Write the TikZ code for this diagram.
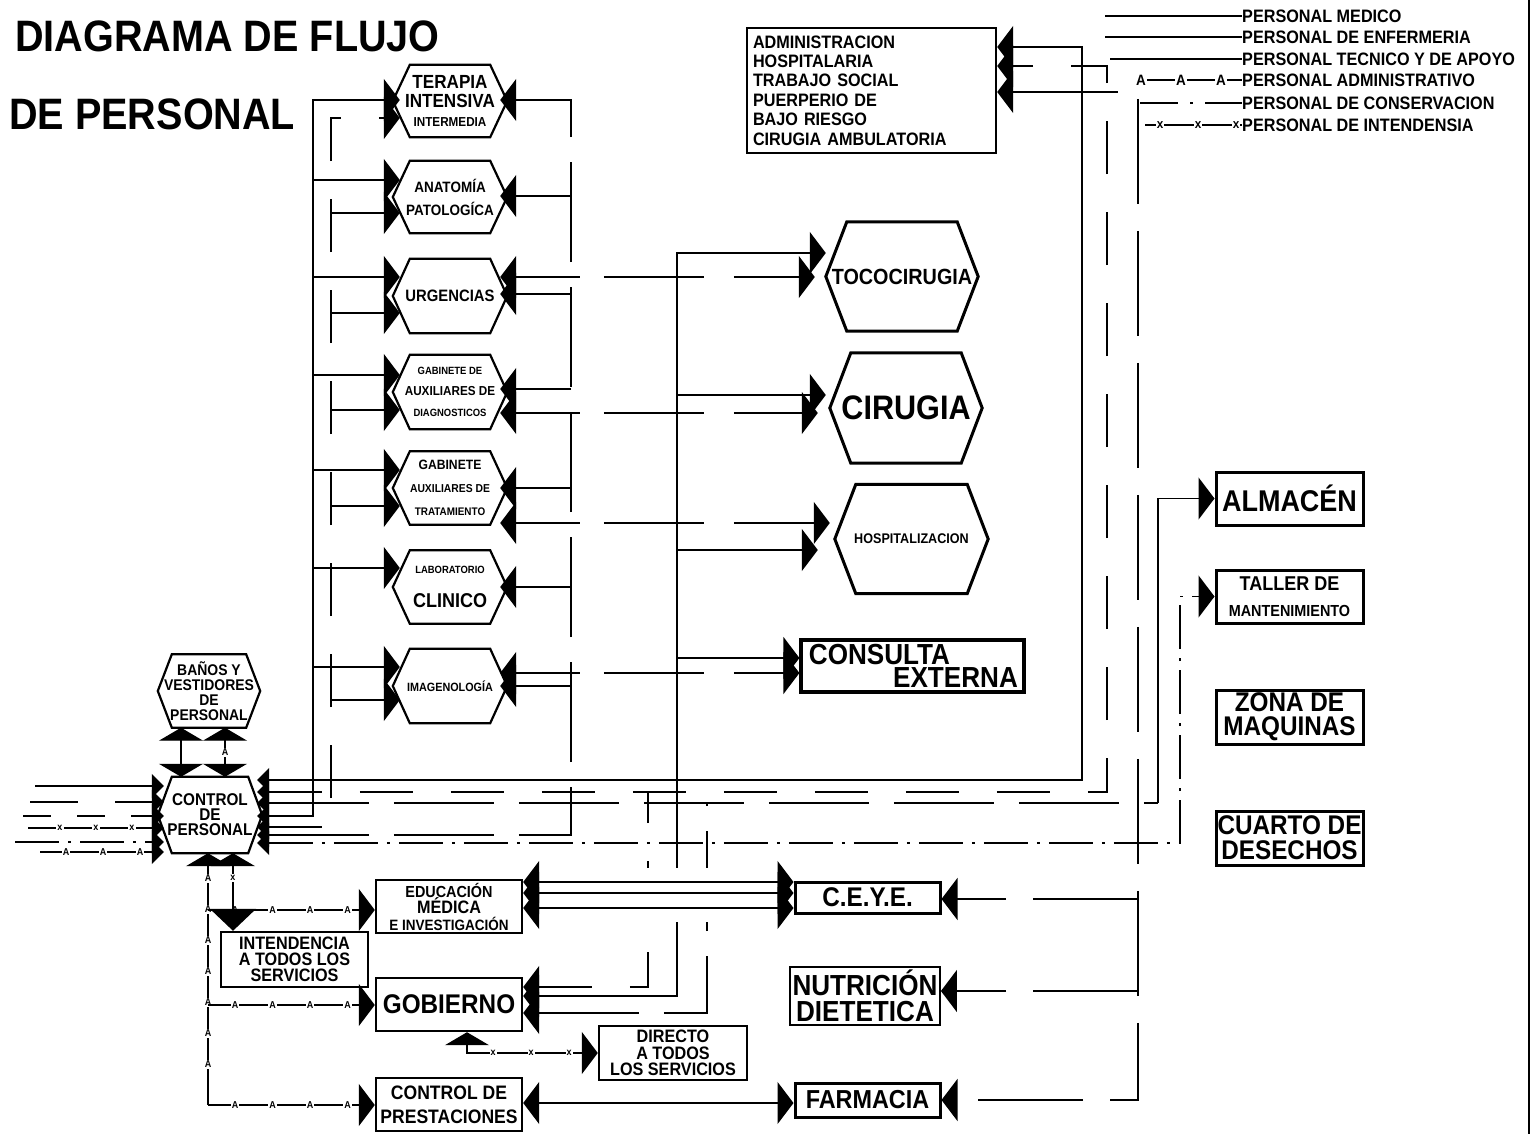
\documentclass[tikz,border=0pt]{standalone}
\usepackage{fontspec}
\setmainfont{Liberation Sans}[FakeStretch=0.9]
\usetikzlibrary{arrows.meta,decorations.markings}
\newcommand\fnt[2]{\fontsize{#1}{#2}\selectfont\bfseries}
\newcommand\amk{\node[mk]{A};}
\newcommand\xmk{\node[mk]{x};}
\newcommand\bamk{\node[mk,font=\fnt{15}{15}]{A};}
\newcommand\bxmk{\node[mk,font=\fnt{13}{13}]{x};}
\newcommand\hexa[3]{\draw[line width=#3,line join=miter] (#1.west) -- ([xshift=#2]#1.north west) -- ([xshift=-#2]#1.north east) -- (#1.east) -- ([xshift=-#2]#1.south east) -- ([xshift=#2]#1.south west) -- cycle;}
\begin{document}
\begin{tikzpicture}[x=1pt,y=-1pt,
  every node/.style={inner sep=0pt},
  >={Triangle[length=16pt,width=42pt]},
  sm/.tip={Triangle[length=12pt,width=24pt]},
  bt/.tip={Triangle[length=13pt,width=44pt]},
  dn/.tip={Triangle[length=22pt,width=46pt]},
  ln/.style={line width=1.4pt},
  med/.style={ln},
  enf/.style={ln,dash pattern=on 53pt off 38pt},
  tec/.style={ln,dash pattern=on 100pt off 25pt},
  crs/.style={ln,dash pattern=on 64pt off 24pt on 100pt off 30pt on 400pt off 1pt},
  lng/.style={ln,dash pattern=on 105pt off 27pt},
  con/.style={ln,dash pattern=on 44pt off 9pt on 3pt off 9pt},
  shd/.style={ln,dash pattern=on 28pt off 26pt},
  mk/.style={fill=white,inner sep=1.2pt,font=\fnt{10}{10}},
  mkl/.style={ln,postaction={decorate,decoration={markings,mark=#1}}},
  hx/.style 2 args={minimum width=#1,minimum height=#2,align=center},
  bx/.style 2 args={draw,line width=2.4pt,line join=miter,minimum width=#1,minimum height=#2,align=center},
]
\useasboundingbox (0,0) rectangle (1534,1134);
\fill[white] (0,0) rectangle (1534,1134);

% ---------- title ----------
\node[anchor=west,font=\fnt{44}{48}] (t1) at (15,36) {DIAGRAMA DE FLUJO};
\node[anchor=west,font=\fnt{44}{48}] (t2) at (9,114) {DE PERSONAL};

% ---------- legend ----------
\node[anchor=west,font=\fnt{18}{18}] (g1) at (1242,16) {PERSONAL MEDICO};
\node[anchor=west,font=\fnt{18}{18}] (g2) at (1242,37) {PERSONAL DE ENFERMERIA};
\node[anchor=west,font=\fnt{18}{18}] (g3) at (1242,59) {PERSONAL TECNICO Y DE APOYO};
\node[anchor=west,font=\fnt{18}{18}] (g4) at (1242,80) {PERSONAL ADMINISTRATIVO};
\node[anchor=west,font=\fnt{18}{18}] (g5) at (1242,103) {PERSONAL DE CONSERVACION};
\node[anchor=west,font=\fnt{18}{18}] (g6) at (1242,125) {PERSONAL DE INTENDENSIA};
\coordinate (k1) at (1105,16);
\coordinate (k2) at (1105,37);
\coordinate (k3) at (1110,59);
\coordinate (k4) at (1135,80);
\coordinate (k5) at (1140,103);
\coordinate (k6) at (1145,125);
\draw[med] (k1) -- (g1.west);
\draw[med] (k2) -- (g2.west);
\draw[med] (k3) -- (g3.west);
\draw[mkl={between positions 6pt and 1 step 40pt with \bamk}] (k4) -- (g4.west);
\draw[ln,dash pattern=on 38pt off 12pt on 3pt off 12pt] (k5) -- (g5.west);
\draw[mkl={between positions 15pt and 1 step 38pt with \bxmk}] (k6) -- (g6.west);

% ---------- page frame line ----------
\draw[line width=1.2pt] (1529,0) -- (1529,1134);

% ---------- admin box ----------
\node[bx={249pt}{125pt},text width=237pt,align=left,font=\fnt{18}{19.4}] (adm) at (871.5,90.5)
  {ADMINISTRACION\\HOSPITALARIA\\TRABAJO SOCIAL\\PUERPERIO DE\\BAJO RIESGO\\CIRUGIA AMBULATORIA};

% ---------- left hexagons ----------
\node[hx={114pt}{72pt},font=\fnt{19}{19}] (ter) at (450,101) {TERAPIA\\INTENSIVA\\\fnt{13}{19}INTERMEDIA};
\node[hx={114pt}{72pt},font=\fnt{15}{23}] (ana) at (450,197) {ANATOMÍA\\PATOLOGÍCA};
\node[hx={114pt}{74pt},font=\fnt{16.5}{18}] (urg) at (450,296) {URGENCIAS};
\node[hx={114pt}{74pt},font=\fnt{13}{21}] (gdi) at (450,392) {\fnt{10.5}{21}GABINETE DE\\AUXILIARES DE\\\fnt{10.5}{21}DIAGNOSTICOS};
\node[hx={114pt}{73pt},font=\fnt{13.5}{23}] (gtr) at (450,488) {GABINETE\\\fnt{11.5}{23}AUXILIARES DE\\\fnt{11}{23}TRATAMIENTO};
\node[hx={114pt}{73pt},font=\fnt{20}{34}] (lab) at (450,587) {\fnt{10.5}{34}LABORATORIO\\CLINICO};
\node[hx={114pt}{74pt},font=\fnt{12}{14}] (ima) at (450,686) {IMAGENOLOGÍA};
\foreach \n in {ter,ana,urg,gdi,gtr,lab,ima} {\hexa{\n}{17pt}{2.2pt}}

% ---------- central hexagons ----------
\node[hx={152pt}{109pt},font=\fnt{22}{24}] (toc) at (902,276.5) {TOCOCIRUGIA};
\node[hx={152pt}{110pt},font=\fnt{34}{36}] (cir) at (906,408) {CIRUGIA};
\node[hx={153pt}{109pt},font=\fnt{14}{16}] (hos) at (911.5,539) {HOSPITALIZACION};
\foreach \n in {toc,cir,hos} {\hexa{\n}{21pt}{3pt}}
\node[bx={223pt}{52pt},line width=3.2pt] (cns) at (912.5,666) {};
\node[font=\fnt{29}{30}] (cnsa) at (879.5,655) {CONSULTA};
\node[font=\fnt{29}{30}] (cnsb) at (955.5,678) {EXTERNA};

% ---------- baños / control ----------
\node[hx={102pt}{73pt},font=\fnt{15.5}{15}] (ban) at (209,691) {BAÑOS Y\\VESTIDORES\\DE\\PERSONAL};
\node[hx={104pt}{76pt},font=\fnt{17}{15}] (ctl) at (210,815) {CONTROL\\DE\\PERSONAL};
\hexa{ban}{14pt}{2.2pt}
\hexa{ctl}{14pt}{2.2pt}

% ---------- right boxes ----------
\node[bx={147pt}{53pt},line width=3pt,font=\fnt{30}{32}] (alm) at (1289.5,498.5) {ALMACÉN};
\node[bx={147pt}{53pt},line width=3pt,font=\fnt{20}{26}] (tal) at (1289.5,596.5) {TALLER DE\\\fnt{16}{26}MANTENIMIENTO};
\node[bx={147pt}{54pt},line width=3pt,font=\fnt{27}{24}] (zon) at (1289.5,717) {ZONA DE\\MAQUINAS};
\node[bx={147pt}{54pt},line width=3pt,font=\fnt{27}{25}] (cua) at (1289.5,838) {CUARTO DE\\DESECHOS};

% ---------- bottom boxes ----------
\node[bx={145pt}{31pt},line width=3pt,font=\fnt{27}{28}] (cey) at (867.5,897.5) {C.E.Y.E.};
\node[bx={150pt}{58pt},line width=1.8pt,font=\fnt{29}{26}] (nut) at (865,996) {NUTRICIÓN\\DIETETICA};
\node[bx={145pt}{34pt},line width=3pt,font=\fnt{26}{28}] (far) at (867.5,1100) {FARMACIA};
\node[bx={146pt}{53pt},font=\fnt{16}{16.5}] (edu) at (449,906.5) {EDUCACIÓN\\\fnt{18}{16.5}MÉDICA\\\fnt{15}{16.5}E INVESTIGACIÓN};
\node[bx={147pt}{55pt},font=\fnt{18}{16}] (int) at (294.5,959.5) {INTENDENCIA\\A TODOS LOS\\SERVICIOS};
\node[bx={146pt}{53pt},font=\fnt{27}{28}] (gob) at (449,1004.5) {GOBIERNO};
\node[bx={148pt}{54pt},font=\fnt{18}{16.5}] (dir) at (673,1053) {DIRECTO\\A TODOS\\LOS SERVICIOS};
\node[bx={146pt}{53pt},font=\fnt{19.5}{24}] (pre) at (449,1104.5) {CONTROL DE\\PRESTACIONES};

% ---------- trunk coordinates ----------
\coordinate (tA) at (313,0);
\coordinate (tB) at (331,0);
\coordinate (tC) at (571,0);
\coordinate (tD) at (677,0);
\coordinate (tE) at (648,0);
\coordinate (tF) at (707,0);
\coordinate (vM) at (1082,0);
\coordinate (vN) at (1107,0);
\coordinate (vO) at (1138,0);
\coordinate (vP) at (1158,0);
\coordinate (vQ) at (1180,0);
\coordinate (vA) at (208,0);
\coordinate (vX) at (233,0);
\coordinate (bx1) at (181,0);
\coordinate (bx2) at (225,0);
\coordinate (gx) at (467,0);

% ---------- left trunks ----------
\draw[med,sm->] ([xshift=-5pt]ctl.east |- 0,816) -| (tA |- 0,100) -- ([xshift=7pt]ter.west |- 0,100);
\foreach \y/\n in {180/ana,277/urg,375/gdi,470/gtr,568/lab,667/ima}
  \draw[med,->] (tA |- 0,\y) -- ([xshift=7pt]\n.west |- 0,\y);
\draw[enf,sm->] ([xshift=-5pt]ctl.east |- 0,827) -| (tB |- 0,118) -- ([xshift=7pt]ter.west |- 0,118);
\foreach \y/\n in {213/ana,313/urg,410/gdi,506/gtr,700/ima}
  \draw[enf,->] (tB |- 0,\y) -- ([xshift=7pt]\n.west |- 0,\y);

% ---------- right trunk ----------
\draw[tec,sm->] ([xshift=-5pt]ctl.east |- 0,835) -| (tC |- 0,100) -- ([xshift=-7pt]ter.east |- 0,100);
\foreach \y/\n in {196/ana,294/urg,389/gdi,488/gtr,587/lab,686/ima}
  \draw[med,->] (tC |- 0,\y) -- ([xshift=-7pt]\n.east |- 0,\y);

% ---------- cross links ----------
\draw[crs,<->] ([xshift=-7pt]urg.east |- 0,277) -- ([xshift=-11pt]toc.west |- 0,277);
\draw[crs,<->] ([xshift=-7pt]gdi.east |- 0,413) -- ([xshift=-12pt]cir.west |- 0,413);
\draw[crs,<->] ([xshift=-7pt]gtr.east |- 0,523) -- ([xshift=-5pt]hos.west |- 0,523);
\draw[crs,<->] ([xshift=-7pt]ima.east |- 0,673) -- (cns.west |- 0,673);

% ---------- central trunk ----------
\draw[med,<->] (gob.east |- 0,996) -| (tD |- 0,253) -- (toc.west |- 0,253);
\draw[med,->] (tD |- 0,395) -- ([xshift=-4pt]cir.west |- 0,395);
\draw[med,->] (tD |- 0,550) -- ([xshift=-17pt]hos.west |- 0,550);
\draw[med,->] (tD |- 0,658) -- (cns.west |- 0,658);
\draw[enf,<-] (gob.east |- 0,987) -| (tE |- 0,792);
\draw[tec,<-] (gob.east |- 0,1013) -| (tF |- 0,803);
\fill[white] (638,868) rectangle (717,922);
\foreach \y in {882,893,908}
  \draw[med,<->] (edu.east |- 0,\y) -- (cey.west |- 0,\y);
\draw[med,<->] (pre.east |- 0,1103) -- (far.west |- 0,1103);

% ---------- long runs to the right ----------
\draw[med,sm->] ([xshift=-5pt]ctl.east |- 0,780) -| (vM |- 0,47) -- (adm.east |- 0,47);
\draw[enf,sm->] ([xshift=-5pt]ctl.east |- 0,792) -| (vN |- 0,66) -- (adm.east |- 0,66);
\draw[tec,sm-] ([xshift=-5pt]ctl.east |- 0,803) -- (vP |- 0,803);
\draw[med,->] (vP |- 0,803) |- (alm.west);
\draw[con,sm->] ([xshift=-5pt]ctl.east |- 0,843) -| (vQ |- tal.west) -- (tal.west);
\draw[lng,<->] (adm.east |- 0,92) -| (vO |- 0,1100) -- (far.east |- 0,1100);
\draw[lng,->] (vO |- 0,899) -- (cey.east |- 0,899);
\draw[lng,->] (vO |- 0,991) -- (nut.east |- 0,991);

% ---------- lines entering control from the left ----------
\coordinate (l1) at (35,786);
\coordinate (l2) at (30,802);
\coordinate (l3) at (23,816);
\coordinate (l4) at (28,828);
\coordinate (l5) at (15,842);
\coordinate (l6) at (40,852);
\draw[med,-sm] (l1) -- ([xshift=6pt]ctl.west |- l1);
\draw[ln,dash pattern=on 48pt off 37pt,-sm] (l2) -- ([xshift=6pt]ctl.west |- l2);
\draw[shd,-sm] (l3) -- ([xshift=6pt]ctl.west |- l3);
\draw[mkl={between positions 32pt and 110pt step 36pt with \xmk},-sm] (l4) -- ([xshift=6pt]ctl.west |- l4);
\draw[con,-sm] (l5) -- ([xshift=6pt]ctl.west |- l5);
\draw[mkl={between positions 26pt and 105pt step 37pt with \amk},-sm] (l6) -- ([xshift=6pt]ctl.west |- l6);

% ---------- baños <-> control ----------
\draw[med,bt-bt] (bx1 |- ban.south) -- (bx1 |- ctl.north);
\draw[mkl={at position 0.5 with \amk},bt-bt] (bx2 |- ban.south) -- (bx2 |- ctl.north);

% ---------- administrative / intendencia lines below control ----------
\draw[mkl={between positions 25pt and 240pt step 31pt with \amk},bt-] (vA |- ctl.south) -- (vA |- 0,1105);
\draw[mkl={between positions 27pt and 150pt step 37.5pt with \amk},->] (vA |- 0,910) -- (edu.west |- 0,910);
\draw[mkl={between positions 27pt and 150pt step 37.5pt with \amk},->] (vA |- 0,1005) -- (gob.west |- 0,1005);
\draw[mkl={between positions 27pt and 150pt step 37.5pt with \amk},->] (vA |- 0,1105) -- (pre.west |- 0,1105);
\draw[mkl={at position 25pt with \xmk},bt-dn] (vX |- ctl.south) -- (vX |- int.north);
\draw[mkl={between positions 47pt and 130pt step 38pt with \xmk},bt->] (gx |- gob.south) |- (dir.west);
\end{tikzpicture}
\end{document}
